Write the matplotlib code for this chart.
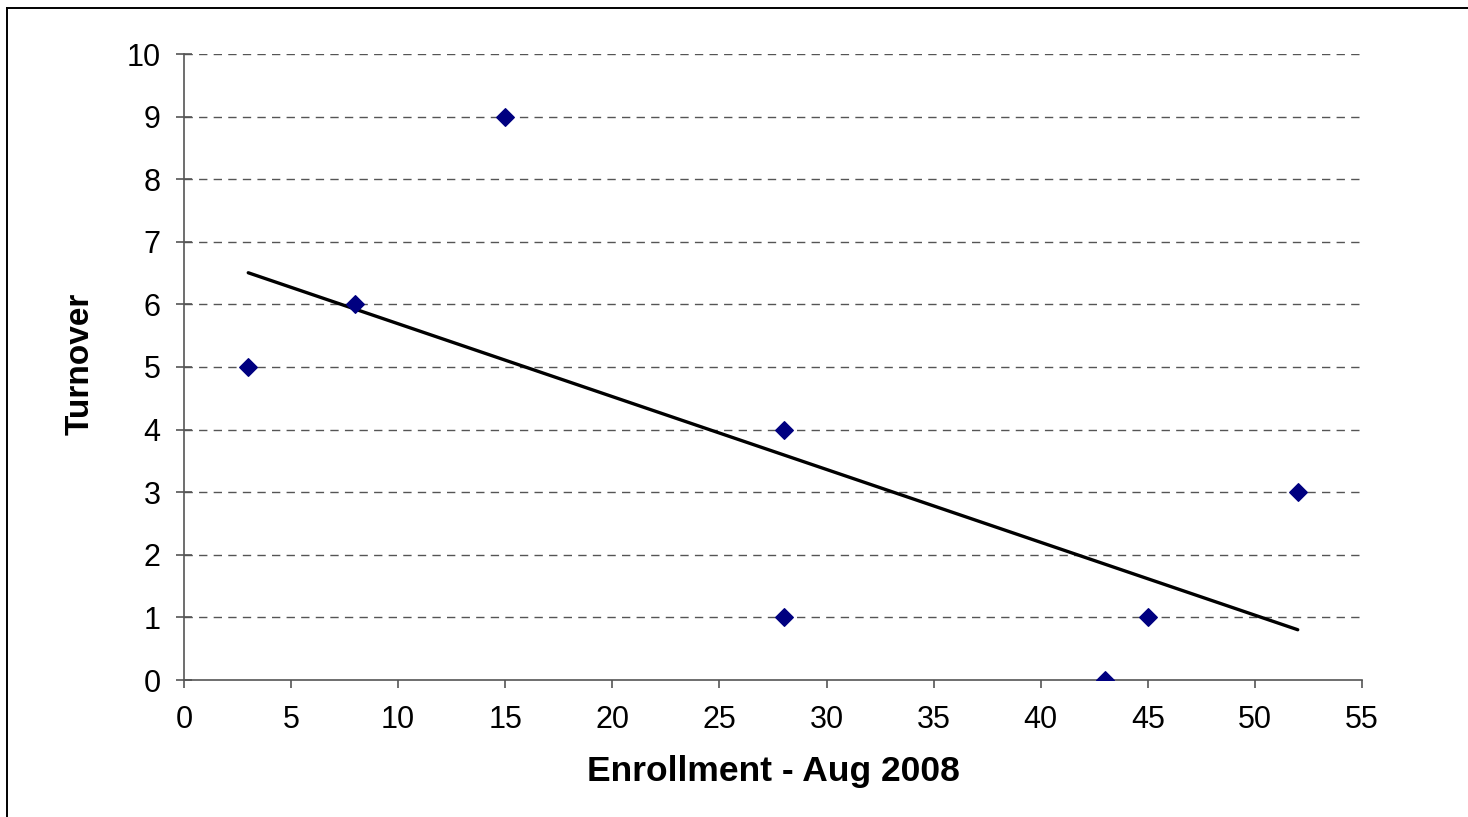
"""
Scatter of turnover vs enrollment with linear trendline.
"""

import matplotlib
matplotlib.use("Agg")
import matplotlib.pyplot as plt
import numpy as np
from matplotlib.lines import Line2D

plt.rcParams["font.family"] = ["Liberation Sans", "DejaVu Sans"]

# data
enrollment = [3, 8, 15, 28, 28, 43, 45, 52]
turnover = [5, 6, 9, 4, 1, 0, 1, 3]

x_ticks = list(range(0, 56, 5))
y_ticks = list(range(0, 11))

W, H = 1468, 817
fig = plt.figure(figsize=(W / 100, H / 100), dpi=100)
ax = fig.add_axes([184 / W, 1 - 680 / H, (1362 - 184) / W, (680 - 54) / H])

# chart area border: only left and top edges show in the reference
fig.lines.append(Line2D([6.5 / W, 6.5 / W], [0, 1 - 7.5 / H], transform=fig.transFigure,
                        color="black", linewidth=1.4))
fig.lines.append(Line2D([6.5 / W, 1], [1 - 7.5 / H, 1 - 7.5 / H], transform=fig.transFigure,
                        color="black", linewidth=1.4))

for y in y_ticks[1:]:
    ax.axhline(y, color="#555555", linestyle=(0, (6, 4.5)), linewidth=1.0, zorder=1)

ax.scatter(enrollment, turnover, marker="D", s=80, color="#000080", zorder=3)

# linear trendline over the data range
slope, intercept = np.polyfit(enrollment, turnover, 1)
xs = np.array([min(enrollment), max(enrollment)])
ax.plot(xs, slope * xs + intercept, color="black", linewidth=2.4, zorder=2,
        solid_capstyle="round")

ax.set_xlim(0, 55)
ax.set_ylim(0, 10)
ax.set_xticks(x_ticks)
ax.set_yticks(y_ticks)

for side in ["top", "right"]:
    ax.spines[side].set_visible(False)
for side in ["left", "bottom"]:
    ax.spines[side].set_color("#555555")
    ax.spines[side].set_linewidth(1.2)

ax.tick_params(axis="x", direction="out", length=6, width=1.2, color="#555555",
               labelsize=22, pad=12)
ax.tick_params(axis="y", direction="inout", length=11.5, width=1.2, color="#555555",
               labelsize=22, pad=11)

ax.set_xlabel("Enrollment - Aug 2008", fontsize=25.5, fontweight="bold")
ax.set_ylabel("Turnover", fontsize=24, fontweight="bold")
ax.xaxis.label.set_va("center")
ax.yaxis.label.set_va("center")
ax.xaxis.set_label_coords(0.5, (680 - 772) / 626)
ax.yaxis.set_label_coords((80 - 184) / 1178, 0.505)

plt.savefig("out.png", dpi=100)
plt.close()
